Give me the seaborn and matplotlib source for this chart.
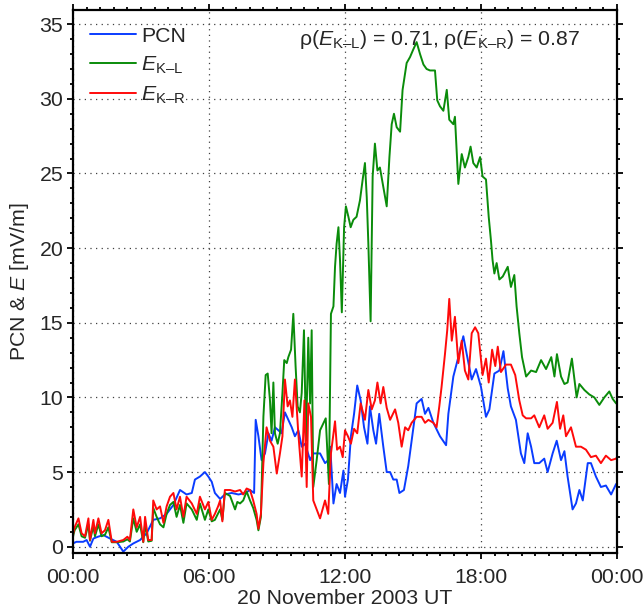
import numpy as np
import pandas as pd
import matplotlib
matplotlib.use("Agg")
import matplotlib.pyplot as plt
from matplotlib.ticker import MultipleLocator, FixedLocator
import seaborn as sns

# ---------------- data (hours UT, mV/m) ----------------
pcn_h = [0.0, 0.15, 0.45, 0.6, 0.75, 0.9, 1.1, 1.34, 1.63, 1.93, 2.22, 2.44, 2.66, 2.96, 3.25, 3.54,
         3.84, 4.13, 4.43, 4.72, 5.01, 5.24, 5.38, 5.6, 5.82, 5.97, 6.12, 6.26, 6.49, 6.7, 7.0, 7.3,
         7.6, 7.81, 7.99, 8.06, 8.18, 8.32, 8.47, 8.62, 8.76, 8.91, 9.06, 9.2, 9.35, 9.5, 9.65, 9.79,
         9.94, 10.09, 10.24, 10.46, 10.6, 10.75, 10.9, 11.12, 11.26, 11.35, 11.49, 11.63, 11.78, 11.93,
         12.0, 12.13, 12.26, 12.4, 12.54, 12.69, 12.84, 12.99, 13.1, 13.25, 13.37, 13.51, 13.69, 13.84,
         13.99, 14.13, 14.28, 14.4, 14.6, 14.79, 14.94, 15.16, 15.38, 15.53, 15.68, 15.9, 16.19, 16.46,
         16.56, 16.78, 17.0, 17.22, 17.37, 17.59, 17.78, 18.0, 18.22, 18.37, 18.59, 18.81, 18.99, 19.18,
         19.32, 19.54, 19.76, 19.91, 20.06, 20.21, 20.35, 20.57, 20.79, 20.94, 21.16, 21.34, 21.53,
         21.68, 21.82, 22.04, 22.19, 22.34, 22.49, 22.71, 22.85, 23.07, 23.29, 23.51, 23.74, 23.96, 24.0]
pcn_v = [0.22, 0.33, 0.33, 0.45, 0.0, 0.55, 0.67, 0.78, 0.55, 0.33, -0.33, 0.0, 0.22, 0.45, 0.9, 1.8,
         1.9, 2.2, 2.8, 3.8, 3.5, 3.6, 4.5, 4.7, 5.0, 4.7, 4.35, 3.6, 3.2, 3.5, 3.6, 3.5,
         3.6, 3.8, 3.6, 8.5, 7.4, 5.8, 6.25, 7.6, 7.1, 8.0, 7.8, 7.6, 9.0, 8.5, 8.0, 7.4,
         7.8, 6.7, 6.9, 5.8, 6.25, 6.25, 6.25, 5.6, 5.8, 6.7, 2.9, 4.2, 3.6, 5.1,
         3.35, 4.5, 7.4, 8.9, 10.8, 9.8, 8.0, 6.9, 9.4, 7.8, 6.9, 8.9, 6.7, 5.0,
         5.0, 4.5, 4.5, 3.6, 3.8, 5.4, 7.1, 9.6, 9.9, 8.9, 9.3, 8.3, 7.4, 6.8,
         8.9, 11.4, 12.7, 14.1, 12.9, 11.2, 11.9, 10.7, 8.7, 9.2, 11.6, 11.8, 13.1, 10.6,
         9.4, 8.5, 6.25, 5.6, 7.6, 6.7, 5.6, 5.6, 5.9, 5.0, 6.25, 7.1, 5.8,
         6.4, 4.7, 2.5, 2.9, 3.8, 3.1, 5.6, 5.6, 4.7, 4.0, 4.1, 3.5, 4.2, 4.1]

ekl_h = [0.0, 0.07, 0.24, 0.38, 0.53, 0.68, 0.75, 0.9, 0.97, 1.12, 1.26, 1.41, 1.56, 1.71, 1.93, 2.22,
         2.4, 2.51, 2.66, 2.81, 2.96, 3.1, 3.18, 3.32, 3.47, 3.54, 3.69, 3.84, 3.99, 4.13, 4.28, 4.43,
         4.57, 4.72, 4.87, 5.01, 5.24, 5.46, 5.6, 5.82, 5.97, 6.12, 6.26, 6.49, 6.59, 6.7, 6.93, 7.15,
         7.25, 7.37, 7.51, 7.66, 7.81, 7.95, 8.1, 8.18, 8.29, 8.4, 8.5, 8.59, 8.69, 8.76, 8.84, 8.91,
         9.03, 9.13, 9.24, 9.32, 9.43, 9.5, 9.62, 9.72, 9.82, 9.91, 10.01, 10.09, 10.19, 10.28, 10.38,
         10.46, 10.53, 10.6, 10.75, 10.9, 11.15, 11.29, 11.38, 11.49, 11.56, 11.63, 11.71, 11.78, 11.86,
         11.96, 12.04, 12.15, 12.25, 12.37, 12.51, 12.66, 12.78, 12.88, 12.96, 13.03, 13.13, 13.22,
         13.32, 13.43, 13.54, 13.69, 13.84, 13.96, 14.06, 14.16, 14.28, 14.43, 14.54, 14.72, 14.87,
         15.01, 15.16, 15.31, 15.46, 15.6, 15.75, 15.97, 16.07, 16.19, 16.34, 16.49, 16.6, 16.78, 16.85,
         17.0, 17.15, 17.29, 17.44, 17.54, 17.66, 17.81, 17.96, 18.07, 18.22, 18.34, 18.44, 18.51,
         18.59, 18.69, 18.81, 18.96, 19.18, 19.32, 19.47, 19.57, 19.69, 19.81, 19.99, 20.21, 20.43,
         20.65, 20.87, 21.1, 21.24, 21.35, 21.53, 21.68, 21.82, 22.01, 22.22, 22.34, 22.56, 22.78,
         23.0, 23.22, 23.44, 23.66, 23.81, 23.96, 24.0]
ekl_v = [0.7, 1.1, 1.5, 0.7, 0.6, 1.5, 0.4, 1.4, 0.7, 1.5, 0.7, 0.8, 1.3, 0.3, 0.3, 0.35,
         0.5, 0.35, 1.9, 1.0, 1.5, 0.3, 1.5, 0.35, 0.4, 2.6, 2.0, 1.5, 1.3, 2.2, 2.8, 3.0,
         2.0, 2.8, 1.6, 2.9, 2.5, 1.8, 2.9, 1.8, 2.5, 1.7, 1.8, 2.5, 1.8, 3.6, 3.4, 2.5,
         3.0, 2.9, 3.1, 3.7, 3.1, 2.6, 1.8, 1.1, 2.0, 8.7, 11.5, 11.6, 9.8, 7.6, 11.0, 7.6,
         6.9, 7.6, 10.3, 12.5, 12.3, 12.7, 13.2, 15.6, 12.1, 9.4, 9.0, 10.3, 14.5, 7.1, 14.0,
         9.6, 14.5, 4.0, 5.8, 7.8, 8.6, 4.2, 15.6, 16.1, 18.75, 20.3, 21.4, 19.2, 15.7,
         21.4, 22.8, 22.1, 21.4, 21.9, 22.1, 23.2, 24.6, 25.7, 23.4, 20.3, 15.1, 24.8,
         27.0, 25.2, 25.4, 24.1, 22.8, 26.1, 28.3, 29.0, 28.1, 27.8, 30.6, 32.4, 32.8,
         33.3, 33.8, 33.0, 32.3, 32.0, 31.9, 31.9, 29.9, 29.5, 29.2, 30.6, 28.6, 28.3, 28.8,
         24.3, 26.3, 25.4, 26.1, 26.8, 25.7, 25.4, 26.1, 24.8, 24.6, 22.1, 20.5, 19.2,
         18.3, 19.0, 17.9, 18.1, 18.75, 17.4, 18.2, 16.1, 14.3, 12.7, 11.4, 11.8, 11.7,
         12.5, 11.9, 12.7, 11.4, 12.9, 11.4, 10.9, 11.0, 12.6, 10.0, 10.9, 10.5, 10.2,
         10.0, 9.5, 10.0, 10.4, 9.9, 9.6, 9.7]

ekr_h = [0.0, 0.07, 0.24, 0.38, 0.53, 0.68, 0.75, 0.9, 0.97, 1.12, 1.26, 1.41, 1.56, 1.71, 1.93, 2.22,
         2.4, 2.51, 2.66, 2.81, 2.96, 3.1, 3.18, 3.32, 3.47, 3.54, 3.69, 3.84, 3.99, 4.13, 4.28, 4.43,
         4.57, 4.72, 4.87, 5.01, 5.24, 5.46, 5.6, 5.82, 5.97, 6.12, 6.26, 6.4, 6.49, 6.59, 6.7, 6.93,
         7.15, 7.37, 7.51, 7.66, 7.81, 7.95, 8.1, 8.18, 8.29, 8.4, 8.54, 8.69, 8.84, 8.99, 9.13, 9.24,
         9.35, 9.47, 9.57, 9.68, 9.79, 9.94, 10.09, 10.21, 10.31, 10.38, 10.5, 10.6, 10.75, 10.9, 11.12,
         11.26, 11.38, 11.56, 11.65, 11.78, 11.9, 12.0, 12.13, 12.26, 12.4, 12.54, 12.69, 12.88, 13.03,
         13.18, 13.32, 13.43, 13.57, 13.69, 13.84, 13.99, 14.21, 14.35, 14.5, 14.65, 14.79, 14.94,
         15.16, 15.38, 15.53, 15.68, 15.9, 16.04, 16.16, 16.26, 16.41, 16.51, 16.6, 16.71, 16.85,
         17.0, 17.15, 17.29, 17.44, 17.59, 17.74, 17.88, 18.07, 18.22, 18.34, 18.49, 18.63, 18.74,
         18.88, 19.1, 19.32, 19.51, 19.69, 19.84, 19.99, 20.21, 20.35, 20.57, 20.79, 20.94, 21.16,
         21.35, 21.49, 21.63, 21.75, 21.97, 22.19, 22.41, 22.63, 22.85, 23.07, 23.29, 23.51, 23.74,
         23.96, 24.0]
ekr_v = [0.8, 1.3, 1.9, 0.9, 0.7, 1.9, 0.45, 1.8, 0.9, 1.9, 0.9, 1.1, 1.8, 0.33, 0.33, 0.45,
         0.67, 0.45, 2.5, 1.3, 2.0, 0.33, 2.0, 0.45, 0.45, 3.1, 2.5, 2.7, 1.6, 2.7, 3.35, 3.6,
         2.5, 3.35, 2.0, 3.35, 2.9, 2.2, 3.35, 2.5, 3.0, 1.8, 2.2, 2.7, 3.1, 1.7, 3.8, 3.8,
         3.7, 3.8, 3.5, 3.9, 3.8, 3.1, 2.2, 1.2, 2.2, 5.6, 8.0, 7.1, 6.7, 4.9, 6.25, 7.4,
         11.2, 9.4, 9.8, 8.7, 11.2, 7.6, 4.7, 9.8, 4.0, 9.6, 8.7, 3.1, 2.5, 1.9, 3.1,
         2.2, 6.25, 8.4, 6.5, 6.7, 6.0, 7.8, 7.4, 6.9, 7.9, 7.6, 9.6, 8.5, 10.5,
         9.2, 9.8, 11.0, 9.6, 10.7, 9.3, 8.5, 9.2, 8.3, 6.7, 8.0, 7.8, 8.3,
         8.7, 8.7, 8.3, 8.5, 8.3, 8.0, 9.4, 10.7, 12.9, 14.5, 16.6, 13.8, 15.4,
         12.3, 13.8, 11.8, 11.2, 14.3, 14.7, 14.3, 11.5, 12.6, 11.0, 13.2, 12.1, 13.4,
         11.7, 12.2, 12.2, 11.5, 9.8, 8.8, 8.6, 8.6, 8.8, 8.0, 8.8, 7.9, 8.3,
         9.7, 7.9, 8.8, 7.4, 8.0, 6.7, 6.7, 6.5, 6.0, 6.1, 5.6, 6.1, 5.8,
         5.9, 6.0]

xtick_pos = [0, 6, 12, 18, 24]
xtick_labels = ["00:00", "06:00", "12:00", "18:00", "00:00"]
ytick_pos = [0, 5, 10, 15, 20, 25, 30, 35]

# ---------------- style ----------------
sns.set_style("ticks")
plt.rcParams["font.family"] = ["Liberation Sans", "DejaVu Sans"]
plt.rcParams["mathtext.fontset"] = "custom"
plt.rcParams["mathtext.rm"] = "Liberation Sans"
plt.rcParams["mathtext.it"] = "Liberation Sans:italic"
plt.rcParams["mathtext.bf"] = "Liberation Sans:bold"
FS = 15.3

fig = plt.figure(figsize=(6.44, 6.14), dpi=100)
ax = fig.add_axes([73 / 644, 1 - 553 / 614, 544 / 644, 543 / 614])

c_blue = "#0a3cff"
c_green = "#0a8c0a"
c_red = "#ff0a0a"

sns.lineplot(x=pcn_h, y=pcn_v, ax=ax, color=c_blue, lw=1.4, label="PCN")
sns.lineplot(x=ekl_h, y=ekl_v, ax=ax, color=c_green, lw=1.4, label=r"$E_{\mathrm{K–L}}$")
sns.lineplot(x=ekr_h, y=ekr_v, ax=ax, color=c_red, lw=1.4, label=r"$E_{\mathrm{K–R}}$")

ax.set_xlim(0, 24)
ax.set_ylim(-0.42, 35.95)
ax.xaxis.set_major_locator(FixedLocator(xtick_pos))
ax.set_xticklabels(xtick_labels)
ax.xaxis.set_minor_locator(MultipleLocator(0.6))
ax.yaxis.set_major_locator(FixedLocator(ytick_pos))
ax.yaxis.set_minor_locator(MultipleLocator(1))

ax.grid(True, which="major", color="0.25", linestyle=(0, (1, 3.5)), linewidth=0.9)
for s in ax.spines.values():
    s.set_linewidth(1.6)
    s.set_color("black")
ax.tick_params(which="both", direction="out", top=True, right=True, labelsize=FS,
               width=1.3, color="black")
ax.tick_params(which="major", length=4)
ax.tick_params(which="minor", length=2.5)
ax.tick_params(axis="x", pad=7)
ax.tick_params(axis="y", pad=3)

ax.set_xlabel("20 November 2003 UT", fontsize=FS, labelpad=1)
ax.set_ylabel(r"PCN & $E$ [mV/m]", fontsize=FS, labelpad=6)

leg = ax.legend(loc="upper left", frameon=False, fontsize=FS, handlelength=2.15,
                handletextpad=0.25, labelspacing=0.42, borderaxespad=0.0,
                bbox_to_anchor=(0.016, 0.985))

ax.text(0.932, 0.945,
        r"ρ($E_{\mathrm{K–L}}$) = 0.71, ρ($E_{\mathrm{K–R}}$) = 0.87",
        transform=ax.transAxes, ha="right", va="center", fontsize=FS)

fig.savefig("out.png", dpi=100)
